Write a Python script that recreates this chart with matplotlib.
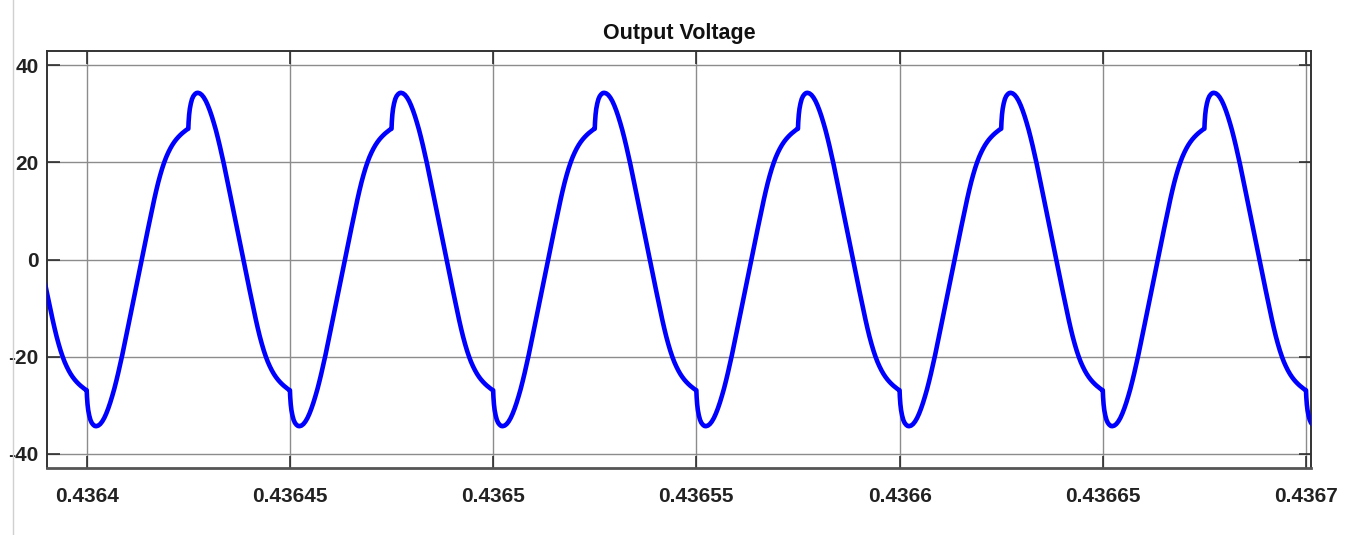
import numpy as np
import matplotlib
matplotlib.use("Agg")
import matplotlib.pyplot as plt
from matplotlib.lines import Line2D

# half a period of the waveform (phase in microseconds)
half_phase_us = [0.00, 0.07, 0.20, 0.37, 0.62, 0.91, 1.23, 1.60, 1.97,
                 2.34, 2.83, 3.32, 3.81, 4.31, 4.80, 5.29, 5.78, 6.27, 6.77,
                 7.26, 7.75, 8.24, 8.74, 9.23, 9.72, 10.21, 10.70, 11.20, 11.69,
                 12.18, 12.67, 13.17, 13.66, 14.15, 14.64, 15.13, 15.63, 16.12, 16.61,
                 17.10, 17.59, 18.09, 18.58, 19.07, 19.56, 20.06, 20.55, 21.04, 21.53,
                 22.02, 22.52, 23.01, 23.50, 23.99, 24.48, 24.95]
# rising half: notch down, trough, ramp up to the shoulder before the peak
rise_volts = [-26.9, -28.3, -29.8, -31.0, -32.1, -33.0, -33.6, -34.0, -34.25,
              -34.3, -34.18, -33.86, -33.34, -32.62, -31.72, -30.66, -29.46, -28.12, -26.66,
              -25.06, -23.36, -21.56, -19.68, -17.72, -15.72, -13.7, -11.68, -9.66, -7.64,
              -5.62, -3.6, -1.58, 0.44, 2.46, 4.48, 6.5, 8.5, 10.46, 12.36,
              14.16, 15.84, 17.38, 18.76, 19.98, 21.06, 22.0, 22.82, 23.54, 24.16,
              24.7, 25.18, 25.6, 25.98, 26.32, 26.64, 26.9]
# falling half: notch up, peak, ramp down to the shoulder before the trough
fall_volts = [26.9, 28.3, 29.8, 31.0, 32.1, 33.0, 33.6, 34.0, 34.25,
              34.3, 34.18, 33.86, 33.34, 32.62, 31.72, 30.66, 29.46, 28.12, 26.66,
              25.06, 23.36, 21.56, 19.68, 17.72, 15.72, 13.7, 11.68, 9.66, 7.64,
              5.62, 3.6, 1.58, -0.44, -2.46, -4.48, -6.5, -8.5, -10.46, -12.36,
              -14.16, -15.84, -17.38, -18.76, -19.98, -21.06, -22.0, -22.82, -23.54, -24.16,
              -24.7, -25.18, -25.6, -25.98, -26.32, -26.64, -26.9]
half_period_us = 25.0
# each period starts with the small notch at these times
period_starts = [0.43635, 0.4364, 0.43645, 0.4365, 0.43655, 0.4366, 0.43665, 0.4367]

x_ticks = [0.4364, 0.43645, 0.4365, 0.43655, 0.4366, 0.43665, 0.4367]
x_tick_labels = ["0.4364", "0.43645", "0.4365", "0.43655", "0.4366", "0.43665", "0.4367"]
y_ticks = [-40, -20, 0, 20, 40]

ph = np.array(half_phase_us) * 1e-6
t, v = [], []
for s in period_starts:
    t += list(s + ph) + list(s + half_period_us * 1e-6 + ph)
    v += rise_volts + fall_volts

plt.rcParams["axes.unicode_minus"] = False
font = ["Liberation Sans", "DejaVu Sans"]

fig = plt.figure(figsize=(13.52, 5.35), dpi=100)
ax = fig.add_axes([47 / 1352, 1 - 468 / 535, (1311 - 47) / 1352, (468 - 51) / 535])

ax.plot(t, v, color=(0, 0, 1), lw=3.3, solid_joinstyle="round", zorder=3)

ax.set_xlim(0.43639023, 0.43670123)
ax.set_ylim(-42.9, 42.9)
ax.set_xticks(x_ticks)
ax.set_xticklabels(x_tick_labels)
ax.set_yticks(y_ticks)
ax.grid(True, color="#8c8c8c", lw=1.0)
ax.tick_params(direction="in", length=9, width=1.1, color="#222222",
               top=True, right=True, labelsize=15)
ax.tick_params(axis="x", pad=14)
ax.tick_params(axis="y", pad=6)
for lab in ax.get_xticklabels() + ax.get_yticklabels():
    lab.set_family(font)
    lab.set_fontweight("bold")
    lab.set_color("#222222")
for side in ["left", "right", "top", "bottom"]:
    ax.spines[side].set_color("#333333")
    ax.spines[side].set_linewidth(1.4)
ax.spines["bottom"].set_color("#555555")
ax.spines["bottom"].set_linewidth(2.0)

ax.set_title("Output Voltage", family=font, fontweight="bold", fontsize=15.5,
             color="#111111", pad=9)

# faint border line on the left of the screenshot
fig.add_artist(Line2D([13 / 1352, 13 / 1352], [0, 1], transform=fig.transFigure,
                      color="#d0d0d0", lw=1))

fig.savefig("out.png", dpi=100)
